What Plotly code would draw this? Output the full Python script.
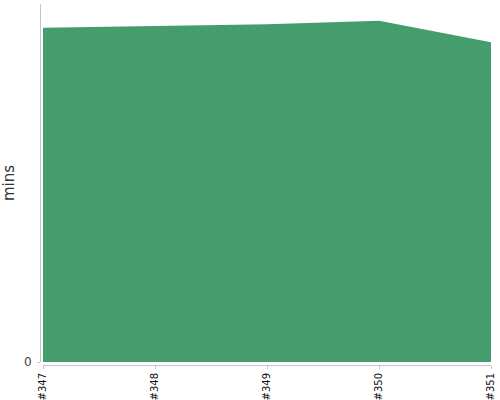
import plotly.graph_objects as go

# Build numbers and duration (mins)
builds = ["#347", "#348", "#349", "#350", "#351"]
mins = [56.0, 56.3, 56.6, 57.2, 53.6]

fig = go.Figure()

fig.add_trace(go.Scatter(
    x=builds,
    y=mins,
    mode="lines",
    fill="tozeroy",
    fillcolor="#459c6d",
    line=dict(color="#459c6d", width=0),
    hoverinfo="x+y",
))

fig.update_layout(
    width=500,
    height=400,
    margin=dict(l=40, r=9, t=4, b=35, autoexpand=False),
    paper_bgcolor="white",
    plot_bgcolor="white",
    showlegend=False,
    font=dict(family="DejaVu Sans", color="#333"),
    xaxis=dict(
        type="category",
        domain=[3 / 451, 1],
        range=[0, 4],
        anchor="free",
        position=0,
        automargin=False,
        showgrid=False,
        zeroline=False,
        showline=True,
        linecolor="#c4c4c4",
        linewidth=1,
        ticks="outside",
        ticklen=3,
        tickcolor="#c4c4c4",
        tickangle=-90,
        tickfont=dict(size=10, color="#111"),
    ),
    yaxis=dict(
        domain=[3 / 361, 1],
        range=[0, 60],
        anchor="free",
        position=0,
        automargin=False,
        tickvals=[0],
        ticktext=["0"],
        showgrid=False,
        zeroline=False,
        showline=True,
        linecolor="#c4c4c4",
        linewidth=1,
        ticks="outside",
        ticklen=3,
        tickcolor="#c4c4c4",
        ticklabelstandoff=3,
        tickfont=dict(size=12, color="#444"),
        title=dict(text="mins", font=dict(size=15, color="#333"), standoff=10),
    ),
)

# the page's default body margin would shift the plot by 8px
fig.write_html(
    "out.html",
    config={"displayModeBar": False},
    post_script="document.body.style.margin = '0';",
)
